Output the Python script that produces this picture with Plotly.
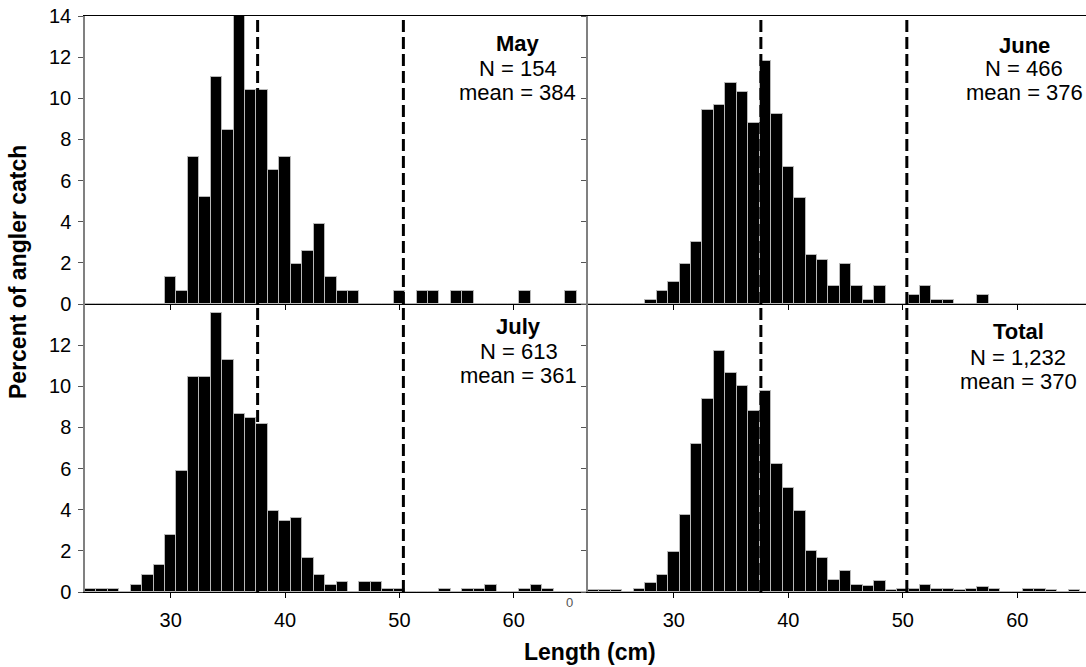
import plotly.graph_objects as go

# ---- data -------------------------------------------------------------
lengths = list(range(23, 67))  # length class (cm)

may = [0, 0, 0, 0, 0, 0, 0, 1.30, 0.65, 7.14, 5.19, 11.04, 8.44, 14.29, 10.39, 10.39,
       6.49, 7.14, 1.95, 2.60, 3.90, 1.30, 0.65, 0.65, 0, 0, 0, 0.65, 0, 0.65, 0.65,
       0, 0.65, 0.65, 0, 0, 0, 0, 0.65, 0, 0, 0, 0.65, 0]
june = [0, 0, 0, 0, 0, 0.21, 0.64, 1.07, 1.93, 3.00, 9.44, 9.66, 10.73, 10.30, 8.80,
        11.80, 9.23, 6.65, 5.15, 2.36, 2.15, 0.86, 1.93, 0.86, 0.21, 0.86, 0, 0, 0.43,
        0.86, 0.21, 0.21, 0, 0, 0.43, 0, 0, 0, 0, 0, 0, 0, 0, 0]
july = [0.16, 0.16, 0.16, 0, 0.33, 0.82, 1.31, 2.77, 5.87, 10.44, 10.44, 13.54, 11.26,
        8.65, 8.48, 8.16, 3.92, 3.43, 3.59, 1.63, 0.82, 0.33, 0.49, 0, 0.49, 0.49, 0.16,
        0.16, 0, 0, 0, 0.16, 0, 0.16, 0.16, 0.33, 0, 0, 0.16, 0.33, 0.16, 0, 0, 0]
total = [0.08, 0.08, 0.08, 0, 0.16, 0.45, 0.85, 1.95, 3.73, 7.20, 9.39, 11.73, 10.67,
         10.00, 8.79, 9.78, 6.20, 5.04, 3.94, 2.00, 1.64, 0.60, 1.00, 0.34, 0.28, 0.54,
         0.08, 0.16, 0.16, 0.34, 0.16, 0.16, 0.08, 0.16, 0.24, 0.16, 0, 0, 0.16, 0.16,
         0.08, 0, 0.08, 0]

panel_names = ["May", "June", "July", "Total"]
panel_n = ["N = 154", "N = 466", "N = 613", "N = 1,232"]
panel_mean = ["mean = 384", "mean = 376", "mean = 361", "mean = 370"]
series = [may, june, july, total]

limit_lines = [37.6, 50.35]     # length limits (cm)
x_ticks = [30, 40, 50, 60]
y_ticks_top = [0, 2, 4, 6, 8, 10, 12, 14]
y_ticks_bottom = [0, 2, 4, 6, 8, 10, 12]

FONT = "Arial, Liberation Sans, sans-serif"

# ---- figure -----------------------------------------------------------
fig = go.Figure()
axes = [("x", "y"), ("x2", "y2"), ("x3", "y3"), ("x4", "y4")]
for vals, (xa, ya) in zip(series, axes):
    fig.add_trace(go.Bar(
        x=lengths, y=vals, xaxis=xa, yaxis=ya, width=1.0,
        marker=dict(color="black", line=dict(color="#b8b8b8", width=1)),
        showlegend=False, hoverinfo="x+y"))

xl = [0, 0.5025]
xr = [0.5025, 1.0]
yt = [0.5, 1.0]
yb = [0.0, 0.5]

common_x = dict(tickvals=x_ticks, ticks="outside", ticklen=5, tickcolor="black",
                showline=True, linecolor="black", linewidth=1, showgrid=False,
                zeroline=False, tickfont=dict(family=FONT, size=20, color="black"),
                ticklabelstandoff=5)
common_y = dict(ticks="outside", ticklen=5, tickcolor="#555555", showline=True,
                linecolor="#808080", linewidth=1.5, showgrid=False, zeroline=False,
                range=[0, 14], tickfont=dict(family=FONT, size=20, color="black"),
                ticklabelstandoff=3)

fig.update_layout(
    width=1086, height=667,
    margin=dict(l=85, r=0, t=16, b=75),
    paper_bgcolor="white", plot_bgcolor="white",
    bargap=0,
    xaxis=dict(domain=xl, anchor="y", range=[22.5, 66.5], showticklabels=False,
               mirror=True, **common_x),
    yaxis=dict(domain=yt, anchor="x", tickvals=y_ticks_top, **common_y),
    xaxis2=dict(domain=xr, anchor="y2", range=[22.5, 66.0], showticklabels=False,
                mirror=True, **common_x),
    yaxis2=dict(domain=yt, anchor="x2", tickvals=y_ticks_top, showticklabels=False,
                **common_y),
    xaxis3=dict(domain=xl, anchor="y3", range=[22.5, 66.5], **common_x),
    yaxis3=dict(domain=yb, anchor="x3", tickvals=y_ticks_bottom, **common_y),
    xaxis4=dict(domain=xr, anchor="y4", range=[22.5, 66.0], **common_x),
    yaxis4=dict(domain=yb, anchor="x4", tickvals=y_ticks_bottom, showticklabels=False,
                **common_y),
)

# dashed length-limit lines
for xa, ya in axes:
    for xv in limit_lines:
        fig.add_shape(type="line", xref=xa, yref=ya, x0=xv, x1=xv, y0=0, y1=13.8,
                      line=dict(color="black", width=3, dash="12px,5px"))

# panel labels
label_x = [60.35, 60.6, 60.45, 60.1]
label_y = [[12.65, 11.43, 10.27], [12.55, 11.43, 10.27],
           [12.9, 11.68, 10.51], [12.65, 11.39, 10.22]]
for i, (xa, ya) in enumerate(axes):
    texts = ["<b>%s</b>" % panel_names[i], panel_n[i], panel_mean[i]]
    for t, yv in zip(texts, label_y[i]):
        fig.add_annotation(x=label_x[i], y=yv, xref=xa, yref=ya, text=t,
                           showarrow=False, xanchor="center", yanchor="middle",
                           font=dict(family=FONT, size=22, color="black"))

# stray zero just below the end of the July axis
fig.add_annotation(x=(569 - 85) / 1001, y=-1 / 576, xref="paper", yref="paper",
                   text="0", showarrow=False, yanchor="top",
                   font=dict(family=FONT, size=13, color="#555555"))

# axis titles
fig.add_annotation(x=505 / 1001, y=-60 / 576, xref="paper", yref="paper",
                   yanchor="middle", xanchor="center",
                   text="<b>Length (cm)</b>", showarrow=False,
                   font=dict(family=FONT, size=23, color="black"))
fig.add_annotation(x=-67 / 1001, y=(592 - 272) / 576, xref="paper", yref="paper",
                   xanchor="center", yanchor="middle",
                   text="<b>Percent of angler catch</b>", showarrow=False, textangle=-90,
                   font=dict(family=FONT, size=23, color="black"))

fig.write_html("out.html", config={"displayModeBar": False},
               post_script="document.body.style.margin='0px';")
